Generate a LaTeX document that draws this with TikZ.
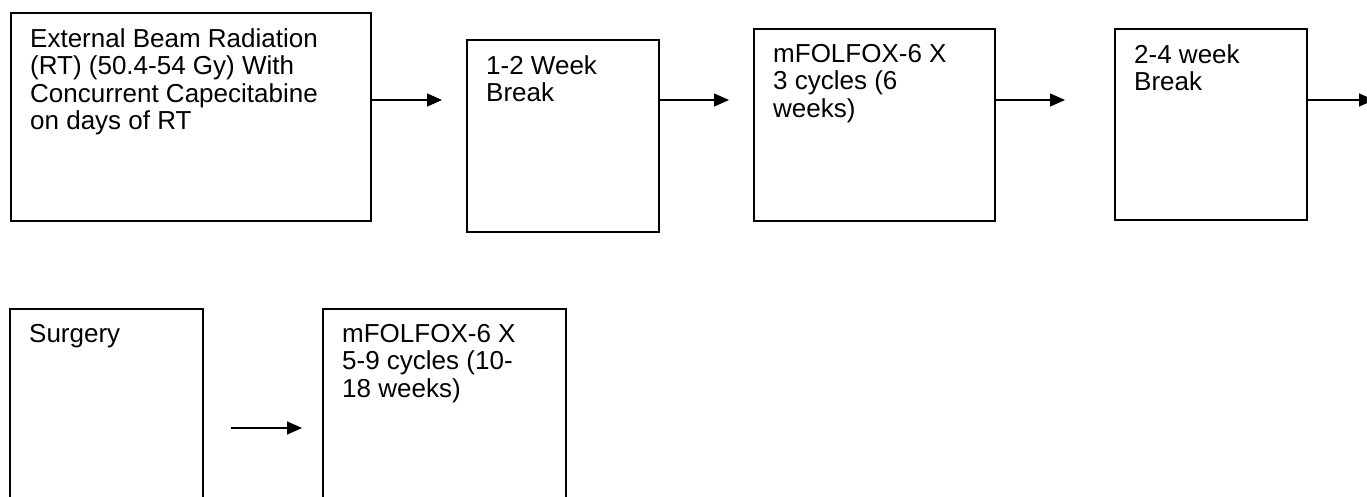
\documentclass[tikz,border=0pt]{standalone}
\usepackage{fontspec}
\setmainfont{Liberation Sans}
\usetikzlibrary{arrows.meta}

\tikzset{
  stage/.style={draw, line width=1.7pt, inner sep=0pt, anchor=north west},
  stagetext/.style={anchor=north west, align=left, inner xsep=20pt, inner ysep=16pt,
                    font=\fontsize{26}{27.5}\selectfont},
  flow/.style={line width=1.4pt, -{Triangle[length=15pt,width=13pt]}}
}

\begin{document}
\begin{tikzpicture}[x=1pt,y=-1pt]
\useasboundingbox (0,0) rectangle (1367,496);
\clip (0,0) rectangle (1367,496);
% first row
\node [stage, minimum width=360pt, minimum height=208pt,
       label={[stagetext]north west:{External Beam Radiation\\(RT) (50.4-54 Gy) With\\Concurrent Capecitabine\\on days of RT}}]
      (radiation) at (10,12) {};
\node [stage, minimum width=192pt, minimum height=192pt,
       label={[stagetext]north west:{1-2 Week\\Break}}]
      (break1) at (466,39) {};
\node [stage, minimum width=241pt, minimum height=192pt,
       label={[stagetext]north west:{mFOLFOX-6 X\\3 cycles (6\\weeks)}}]
      (chemo1) at (753,28) {};
\node [stage, minimum width=192pt, minimum height=191pt,
       label={[stagetext]north west:{2-4 week\\Break}}]
      (break2) at (1114,28) {};
\coordinate (onward) at (1374,100);
% second row
\node [stage, minimum width=193pt, minimum height=200pt,
       label={[stagetext]north west:{Surgery}}]
      (surgery) at (9,308) {};
\node [stage, minimum width=243pt, minimum height=200pt,
       label={[stagetext]north west:{mFOLFOX-6 X\\5-9 cycles (10-\\18 weeks)}}]
      (chemo2) at (322,308) {};
% arrows
\draw [flow, shorten >=24pt] (radiation.east |- 0,100) -- (break1.west |- 0,100);
\draw [flow, shorten >=24pt] (break1.east |- 0,100) -- (chemo1.west |- 0,100);
\draw [flow, shorten >=49pt] (chemo1.east |- 0,100) -- (break2.west |- 0,100);
\draw [flow] (break2.east |- onward) -- (onward);
\draw [flow, shorten <=27pt, shorten >=20pt] (surgery.east |- 0,428) -- (chemo2.west |- 0,428);
\end{tikzpicture}
\end{document}
